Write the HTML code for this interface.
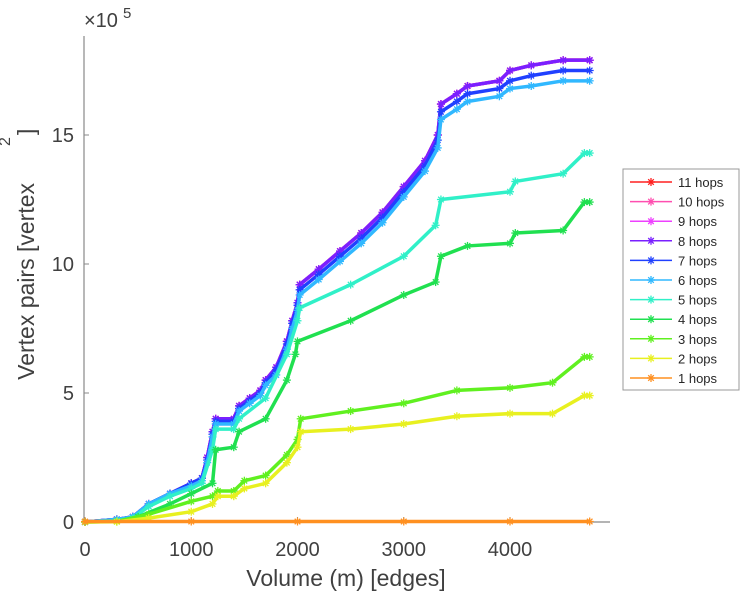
<!DOCTYPE html>
<html><head><meta charset="utf-8"><style>
html,body{margin:0;padding:0;background:#fff;}
svg{display:block;font-family:"Liberation Sans",sans-serif;}
</style></head><body>
<svg id="chart" width="743" height="600" viewBox="0 0 743 600">
<g id="axes"></g><g id="series"></g><g id="legend"></g>
</svg>
<script>
const hopLabels=["11 hops","10 hops","9 hops","8 hops","7 hops","6 hops","5 hops","4 hops","3 hops","2 hops","1 hops"];
const hopColors=["#ff2020","#ff4fb0","#ee40ff","#7a20ff","#2040ff","#30b8ff","#30f0c8","#20e050","#60f020","#e8f020","#ff9020"];
const xTicks=[0,1000,2000,3000,4000];
const yTicks=[0,5,10,15];
const xTop=[0,300,450,600,800,1000,1100,1150,1200,1230,1400,1450,1550,1650,1700,1800,1900,1950,2000,2020,2200,2400,2600,2800,3000,3200,3320,3350,3500,3600,3900,4000,4200,4500,4750];
const y8=[0,0.1,0.2,0.7,1.1,1.5,1.7,2.5,3.5,4.0,4.0,4.5,4.8,5.1,5.5,6.0,7.0,7.8,8.5,9.2,9.8,10.5,11.2,12.0,13.0,14.0,15.0,16.2,16.6,16.9,17.1,17.5,17.7,17.9,17.9];
const y7=[0,0.1,0.2,0.7,1.1,1.5,1.7,2.4,3.4,3.9,3.9,4.4,4.7,5.0,5.4,5.9,6.9,7.7,8.4,9.0,9.6,10.3,11.0,11.8,12.8,13.8,14.8,15.9,16.3,16.6,16.8,17.1,17.3,17.5,17.5];
const y6=[0,0.1,0.2,0.7,1.1,1.4,1.6,2.3,3.3,3.8,3.8,4.3,4.6,4.9,5.3,5.7,6.7,7.5,8.2,8.8,9.4,10.1,10.8,11.6,12.6,13.6,14.5,15.6,16.0,16.3,16.5,16.8,16.9,17.1,17.1];
const x5=[0,300,450,600,800,1000,1100,1200,1230,1400,1450,1700,1900,2000,2020,2500,3000,3300,3350,4000,4050,4500,4700,4750];
const y5=[0,0.05,0.15,0.6,1.0,1.3,1.5,2.8,3.6,3.6,4.0,4.8,6.5,7.8,8.3,9.2,10.3,11.5,12.5,12.8,13.2,13.5,14.3,14.3];
const x4=[0,300,500,800,1000,1200,1230,1400,1450,1700,1900,1980,2000,2500,3000,3300,3350,3600,4000,4050,4500,4700,4750];
const y4=[0,0.02,0.2,0.7,1.1,1.5,2.8,2.9,3.5,4.0,5.5,6.5,7.0,7.8,8.8,9.3,10.3,10.7,10.8,11.2,11.3,12.4,12.4];
const x3=[0,300,600,1000,1200,1250,1400,1500,1700,1900,2000,2030,2500,3000,3500,4000,4400,4700,4750];
const y3=[0,0.02,0.3,0.8,1.0,1.2,1.2,1.6,1.8,2.6,3.2,4.0,4.3,4.6,5.1,5.2,5.4,6.4,6.4];
const y2=[0,0.01,0.15,0.4,0.7,1.0,1.0,1.3,1.5,2.3,2.9,3.5,3.6,3.8,4.1,4.2,4.2,4.9,4.9];
const x1=[0,1000,2000,3000,4000,4750];
const y1=[0.02,0.02,0.02,0.02,0.02,0.02];
const seriesX=[xTop,xTop,xTop,xTop,xTop,xTop,x5,x4,x3,x3,x1];
const seriesY=[y8,y8,y8,y8,y7,y6,y5,y4,y3,y2,y1];
const NS="http://www.w3.org/2000/svg";
const X0=85,XS=0.10625,Y0=522,YS=25.8;
const sx=v=>X0+v*XS, sy=v=>Y0-v*YS;
function mk(tag,at,parent){const e=document.createElementNS(NS,tag);for(const k in at)e.setAttribute(k,at[k]);parent.appendChild(e);return e;}
const axes=document.getElementById('axes');
let a=mk('line',{x1:84,y1:36,x2:84,y2:522,stroke:'#888','stroke-width':1.2},axes);


a=mk('line',{x1:84,y1:522,x2:610,y2:522,stroke:'#888','stroke-width':1.2},axes);


xTicks.forEach(t=>{
 mk('line',{x1:sx(t),y1:522,x2:sx(t),y2:517,stroke:'#888'},axes);
 const tx=mk('text',{x:sx(t),y:556,'font-size':20,fill:'#404040','text-anchor':'middle'},axes);tx.textContent=t;
 
 
});
yTicks.forEach(t=>{
 mk('line',{x1:84,y1:sy(t),x2:89,y2:sy(t),stroke:'#888'},axes);
 const tx=mk('text',{x:74,y:sy(t)+7,'font-size':20,fill:'#404040','text-anchor':'end'},axes);tx.textContent=t;
 
 
});
let t=mk('text',{x:84,y:27,'font-size':20,fill:'#404040'},axes);t.textContent='×10';


t=mk('text',{x:123,y:18,'font-size':15,fill:'#404040'},axes);t.textContent='5';
t=mk('text',{x:346,y:586,'font-size':23,fill:'#404040','text-anchor':'middle'},axes);t.textContent='Volume (m) [edges]';


t=mk('text',{x:0,y:0,'font-size':23,fill:'#404040','text-anchor':'end',transform:'translate(34,183) rotate(-90)'},axes);t.textContent='Vertex pairs [vertex';


t=mk('text',{x:0,y:0,'font-size':16,fill:'#404040',transform:'translate(10,146) rotate(-90)'},axes);t.textContent='2';
t=mk('text',{x:0,y:0,'font-size':23,fill:'#404040',transform:'translate(34,135) rotate(-90)'},axes);t.textContent=']';
const sg=document.getElementById('series');
function star(g,x,y,c,r){
 [[r,0],[0,r],[r*0.7,r*0.7],[r*0.7,-r*0.7]].forEach(d=>mk('line',{x1:x-d[0],y1:y-d[1],x2:x+d[0],y2:y+d[1],stroke:c,'stroke-width':1.3},g));
}
for(let i=seriesX.length-1;i>=0;i--){}
const order=[10,9,8,7,6,5,4,3,2,1,0].reverse();
// draw from 11 hops down so top series ends visible like reference (8 hops on top of 9-11)
[0,1,2,3,4,5,6,7,8,9,10].forEach(i=>{
 const g=mk('g',{},sg);
 
 
 const xs=seriesX[i],ys=seriesY[i];
 const pts=xs.map((x,j)=>sx(x)+','+sy(ys[j])).join(' ');
 mk('polyline',{points:pts,fill:'none',stroke:hopColors[i],'stroke-width':3.5,'stroke-linejoin':'round'},g);
 xs.forEach((x,j)=>star(g,sx(x),sy(ys[j]),hopColors[i],4));
});
const lg=document.getElementById('legend');
const box=mk('rect',{x:623,y:169,width:116,height:221,fill:'#fff',stroke:'#999','stroke-width':1},lg);


hopLabels.forEach((lab,i)=>{
 const y=182+i*19.6;
 const g=mk('g',{},lg);
 
 
 mk('line',{x1:630,y1:y,x2:672,y2:y,stroke:hopColors[i],'stroke-width':1.5},g);
 star(g,651,y,hopColors[i],4);
 const tx=mk('text',{x:678,y:y+5,'font-size':13,fill:'#262626'},g);tx.textContent=lab;
});
</script>
</body></html>
